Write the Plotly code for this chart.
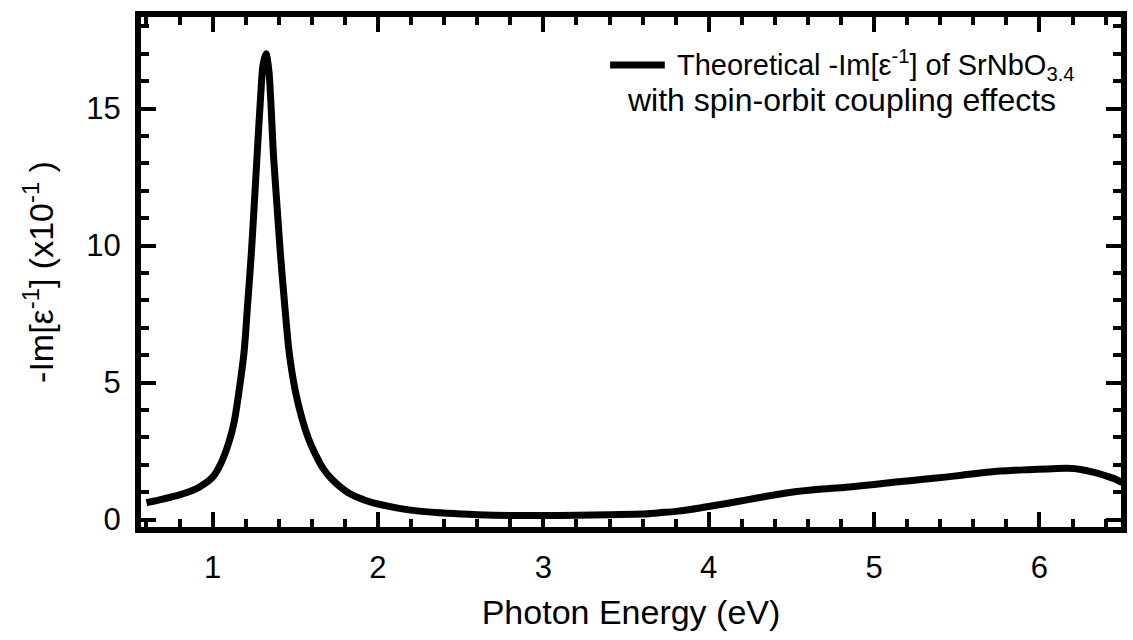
import plotly.graph_objects as go

energy = [0.60, 0.70, 0.80, 0.90, 0.95, 1.00, 1.05, 1.10, 1.13, 1.16, 1.19, 1.21, 1.234, 1.25, 1.27,
          1.29, 1.305, 1.323, 1.34, 1.355, 1.367, 1.39, 1.41, 1.435, 1.463, 1.50, 1.54, 1.58, 1.62,
          1.67, 1.72, 1.82, 1.925, 2.00, 2.12, 2.25, 2.42, 2.60, 2.80, 3.00, 3.20, 3.40, 3.60, 3.70,
          3.80, 3.90, 4.00, 4.10, 4.23, 4.35, 4.50, 4.65, 4.83, 5.00, 5.13, 5.30, 5.43, 5.53, 5.70,
          5.85, 5.93, 6.05, 6.17, 6.25, 6.33, 6.40, 6.45, 6.50]
loss = [0.62, 0.75, 0.90, 1.12, 1.30, 1.55, 2.05, 2.85, 3.55, 4.7, 6.1, 7.7, 9.7, 11.3, 13.4,
        15.4, 16.6, 17.0, 16.4, 14.9, 13.4, 11.4, 9.7, 7.9, 6.1, 4.7, 3.7, 2.95, 2.4,
        1.85, 1.48, 0.98, 0.7, 0.57, 0.42, 0.31, 0.23, 0.18, 0.15, 0.15, 0.16, 0.18, 0.2, 0.25,
        0.3, 0.38, 0.48, 0.58, 0.72, 0.85, 1.0, 1.1, 1.18, 1.28, 1.37, 1.47, 1.55, 1.62, 1.74,
        1.8, 1.82, 1.85, 1.87, 1.83, 1.72, 1.6, 1.5, 1.35]

legend_line1 = "Theoretical -Im[ε<sup>-1</sup>] of SrNbO<sub>3.4</sub>"
legend_line2 = "with spin-orbit coupling effects"
x_title = "Photon Energy (eV)"
y_title = "-Im[ε<sup>-1</sup>] (x10<sup>-1</sup> )"

FONT = "Liberation Sans, Arial, sans-serif"

fig = go.Figure()
fig.add_trace(go.Scatter(x=energy, y=loss, mode="lines",
                         line=dict(color="black", width=7, shape="spline", smoothing=0.8),
                         showlegend=False))

axis_common = dict(
    showline=True, linecolor="black", linewidth=6, mirror="allticks",
    ticks="inside", ticklen=15, tickwidth=4, tickcolor="black",
    showgrid=False, zeroline=False, ticklabelstandoff=8,
    tickfont=dict(family=FONT, size=31, color="black"),
)

fig.update_xaxes(range=[0.567, 6.493], dtick=1, tick0=0,
                 minor=dict(dtick=0.2, ticks="inside", ticklen=8, tickwidth=4, tickcolor="black"),
                 title=dict(text=x_title, font=dict(family=FONT, size=34, color="black"), standoff=18),
                 **axis_common)
fig.update_yaxes(range=[-0.27, 18.34], dtick=5, tick0=0,
                 minor=dict(dtick=1, ticks="inside", ticklen=8, tickwidth=4, tickcolor="black"),
                 title=dict(text=y_title, font=dict(family=FONT, size=34, color="black"), standoff=24),
                 **axis_common)

# legend sample line and text
fig.add_shape(type="line", xref="paper", yref="paper",
              x0=(613 - 141) / 986, x1=(668 - 141) / 986,
              y0=(527 - 65) / 510, y1=(527 - 65) / 510,
              line=dict(color="black", width=7))
fig.add_annotation(text=legend_line1, xref="paper", yref="paper",
                   x=(678 - 141) / 986, y=(527 - 65) / 510, xanchor="left", yanchor="middle",
                   showarrow=False, font=dict(family=FONT, size=29, color="black"))
fig.add_annotation(text=legend_line2, xref="paper", yref="paper",
                   x=(628 - 141) / 986, y=(527 - 100) / 510, xanchor="left", yanchor="middle",
                   showarrow=False, font=dict(family=FONT, size=32, color="black"))

fig.update_layout(width=1133, height=640,
                  margin=dict(l=141, r=6, t=17, b=113),
                  plot_bgcolor="white", paper_bgcolor="white")

fig.write_html("out.html")
